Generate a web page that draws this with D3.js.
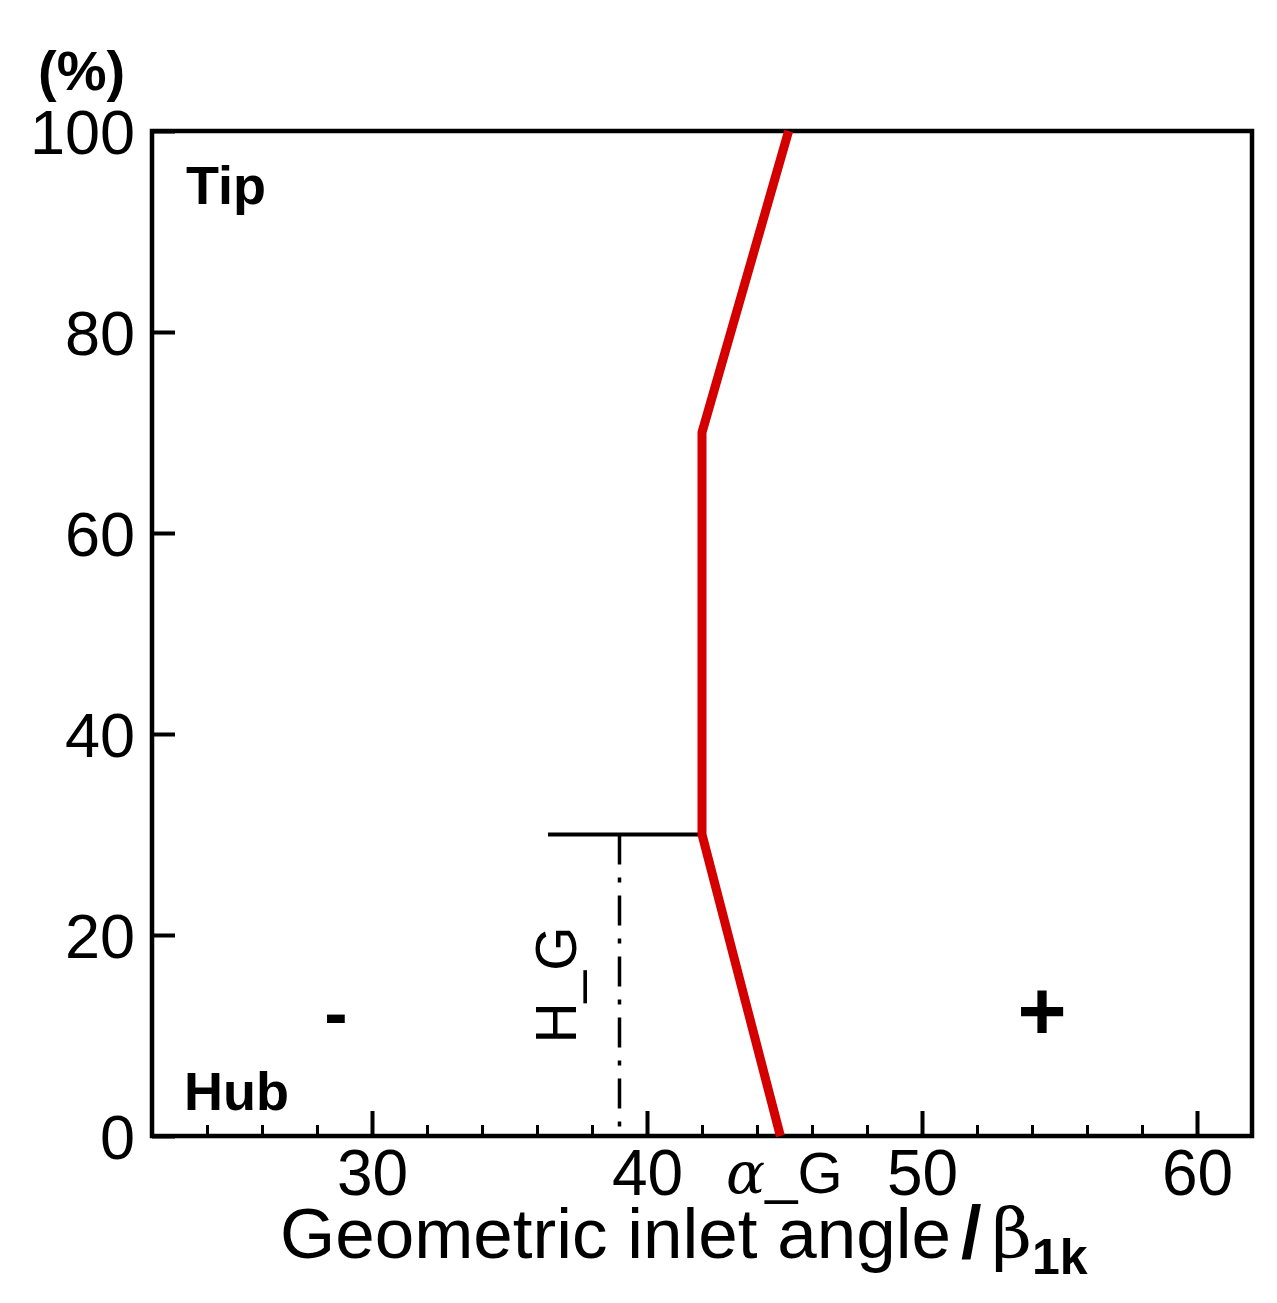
<!DOCTYPE html>
<html>
<head>
<meta charset="utf-8">
<script src="https://cdn.jsdelivr.net/npm/d3@7"></script>
<style>
  body { margin: 0; background: #fff; }
  text { font-family: "Liberation Sans", Arial, sans-serif; fill: #000; }
</style>
</head>
<body>
<svg id="chart"></svg>
<script>
// red line: inlet angle vs span
const spanPct = [0, 30, 70, 100];
const inletAngle = [44.85, 42.0, 42.0, 45.15];
// H_G marker
const hgSpan = 30;
const hgAngleStart = 36.4;
const hgAngleDash = 39.0;
const xMajor = [30, 40, 50, 60];
const xMinor = [24, 26, 28, 32, 34, 36, 38, 42, 44, 46, 48, 52, 54, 56, 58];
const yTicks = [0, 20, 40, 60, 80, 100];

const W = 1277, H = 1303;
const m = { left: 152, top: 131, right: 1252, bottom: 1136 };

const svg = d3.select("#chart").attr("width", W).attr("height", H);

const x = d3.scaleLinear().domain([22, 62]).range([m.left, m.right]);
const y = d3.scaleLinear().domain([0, 100]).range([m.bottom, m.top]);

// minor x ticks
svg.append("g")
    .attr("transform", `translate(0,${m.bottom})`)
    .call(d3.axisBottom(x).tickValues(xMinor).tickSize(-11).tickFormat(""))
    .call(g => g.select(".domain").remove())
    .call(g => g.selectAll("line").attr("stroke", "#000").attr("stroke-width", 3));

// major x ticks
svg.append("g")
    .attr("transform", `translate(0,${m.bottom})`)
    .call(d3.axisBottom(x).tickValues(xMajor).tickSize(-25).tickPadding(14).tickFormat(d3.format("d")))
    .call(g => g.select(".domain").remove())
    .call(g => g.selectAll("line").attr("stroke", "#000").attr("stroke-width", 4))
    .call(g => g.selectAll("text").attr("font-size", 64).attr("fill", "#000"));

// y ticks
svg.append("g")
    .attr("transform", `translate(${m.left},0)`)
    .call(d3.axisLeft(y).tickValues(yTicks).tickSize(-23).tickPadding(17).tickFormat(d3.format("d")))
    .call(g => g.select(".domain").remove())
    .call(g => g.selectAll("line").attr("stroke", "#000").attr("stroke-width", 4))
    .call(g => g.selectAll("text").attr("font-size", 63).attr("fill", "#000").attr("dy", "0.36em"));

// frame
svg.append("rect")
    .attr("x", m.left).attr("y", m.top)
    .attr("width", m.right - m.left).attr("height", m.bottom - m.top)
    .attr("fill", "none").attr("stroke", "#000").attr("stroke-width", 4.5);

// H_G horizontal line
svg.append("line")
    .attr("x1", x(hgAngleStart)).attr("x2", x(inletAngle[1]))
    .attr("y1", y(hgSpan)).attr("y2", y(hgSpan))
    .attr("stroke", "#000").attr("stroke-width", 4);

// dash-dot vertical
svg.append("line")
    .attr("x1", x(hgAngleDash)).attr("x2", x(hgAngleDash))
    .attr("y1", y(hgSpan)).attr("y2", y(0))
    .attr("stroke", "#000").attr("stroke-width", 3.5)
    .attr("stroke-dasharray", "30,13,5,13");

// red line
const line = d3.line().x((d, i) => x(inletAngle[i])).y(d => y(d));
svg.append("path")
    .datum(spanPct)
    .attr("d", line)
    .attr("fill", "none").attr("stroke", "#d40000").attr("stroke-width", 9)
    .attr("stroke-linejoin", "miter");

// labels
svg.append("text").attr("x", 38).attr("y", 90)
    .attr("font-size", 56).attr("font-weight", "bold").text("(%)");
svg.append("text").attr("x", 186).attr("y", 204)
    .attr("font-size", 54).attr("font-weight", "bold").text("Tip");
svg.append("text").attr("x", 184).attr("y", 1110)
    .attr("font-size", 54).attr("font-weight", "bold").text("Hub");
svg.append("text").attr("x", 336).attr("y", 1037)
    .attr("font-size", 70).attr("font-weight", "bold").attr("text-anchor", "middle").text("-");
svg.append("text").attr("x", 1042).attr("y", 1040)
    .attr("font-size", 84).attr("font-weight", "bold").attr("text-anchor", "middle").text("+");

// H_G rotated
svg.append("text")
    .attr("transform", "translate(576,985) rotate(-90)")
    .attr("font-size", 57).attr("text-anchor", "middle").text("H_G");

// α_G
const ag = svg.append("text").attr("x", 726).attr("y", 1193).attr("font-size", 58);
ag.append("tspan").attr("font-family", "'DejaVu Serif', serif").attr("font-style", "italic").text("α");
ag.append("tspan").text("_G");

// axis title
const t = svg.append("text").attr("x", 280).attr("y", 1258)
    .attr("font-size", 71);
t.append("tspan").text("Geometric inlet angle");
t.append("tspan").attr("font-weight", "bold").attr("font-size", 74).attr("dx", 10).text("/");
t.append("tspan").attr("font-family", "'DejaVu Serif', serif").attr("font-size", 70).attr("dx", 10).text("β");
t.append("tspan").attr("font-size", 50).attr("font-weight", "bold").attr("dy", 16).text("1k");
</script>
</body>
</html>
